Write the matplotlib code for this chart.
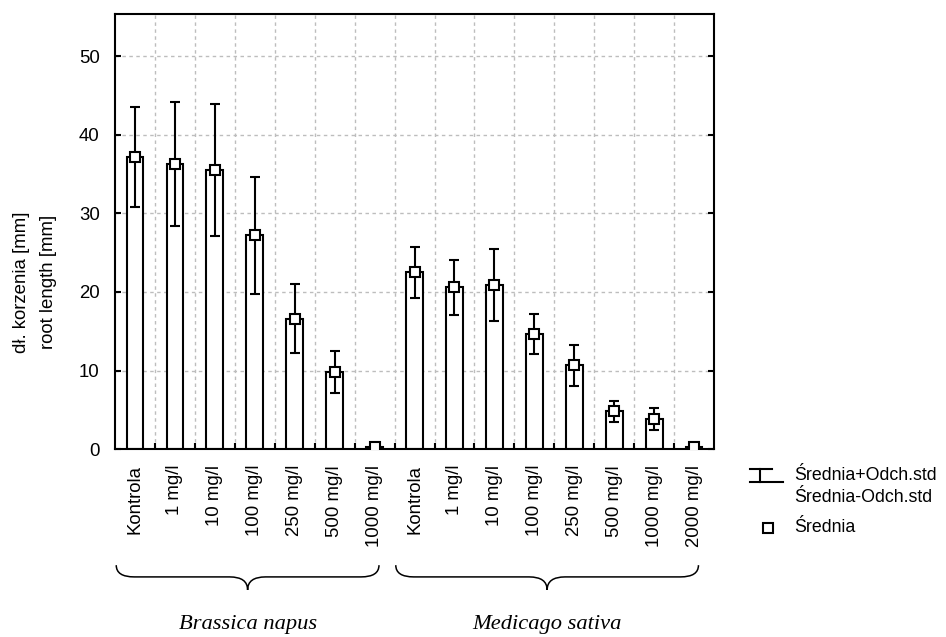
import matplotlib
matplotlib.use("Agg")
import matplotlib.pyplot as plt
import numpy as np
from matplotlib.path import Path
from matplotlib.patches import PathPatch
from matplotlib.lines import Line2D
import matplotlib.transforms as mtransforms

plt.rcParams['font.family'] = ['Liberation Sans', 'DejaVu Sans']

# data
labels_brassica = ['Kontrola', '1 mg/l', '10 mg/l', '100 mg/l', '250 mg/l', '500 mg/l', '1000 mg/l']
labels_medicago = ['Kontrola', '1 mg/l', '10 mg/l', '100 mg/l', '250 mg/l', '500 mg/l', '1000 mg/l', '2000 mg/l']
mean_brassica = [37.2, 36.3, 35.5, 27.2, 16.6, 9.8, 0.2]
sd_brassica = [6.4, 7.9, 8.4, 7.4, 4.4, 2.65, 0.0]
mean_medicago = [22.5, 20.6, 20.85, 14.7, 10.65, 4.8, 3.8, 0.2]
sd_medicago = [3.25, 3.5, 4.6, 2.55, 2.6, 1.3, 1.4, 0.0]
groups = ['Brassica napus', 'Medicago sativa']

labels = labels_brassica + labels_medicago
means = np.array(mean_brassica + mean_medicago)
sds = np.array(sd_brassica + sd_medicago)
x = np.arange(len(labels))

fig = plt.figure(figsize=(9.46, 6.37), dpi=100)
ax = fig.add_axes([0.1216, 0.2951, 0.6332, 0.6829])

ax.bar(x, means, width=0.42, color='white', edgecolor='black', linewidth=1.5, zorder=2)
ax.errorbar(x, means, yerr=sds, fmt='none', ecolor='black', elinewidth=1.5,
            capsize=3.3, capthick=1.5, zorder=3)
ax.plot(x, means, 's', ms=7.5, mfc='white', mec='black', mew=1.5, zorder=4)

ax.set_xlim(-0.5, len(labels) - 0.5)
ax.set_ylim(0, 55.4)
ax.set_yticks(np.arange(0, 51, 10))
ax.set_xticks(x)
ax.set_xticklabels(labels, rotation=90, fontsize=13.4)
ax.set_xticks(x[:-1] + 0.5, minor=True)
ax.tick_params(axis='x', which='major', length=0, pad=11.5)
ax.tick_params(axis='x', which='minor', direction='in', length=4, width=1.5, top=False)
ax.tick_params(axis='y', direction='in', length=4, width=1.5, right=True, labelsize=13.4, pad=11)
ax.grid(True, axis='y', color='#bdbdbd', linestyle=(0, (2.5, 2.5)), linewidth=1, zorder=0)
ax.grid(True, axis='x', which='minor', color='#bdbdbd', linestyle=(0, (2.5, 2.5)), linewidth=1, zorder=0)
for s in ax.spines.values():
    s.set_linewidth(1.5)

W, H = 946.0, 637.0


def fx(px):
    return px / W


def fy(py):
    return 1 - py / H


fig.text(fx(35), fy(282), 'dł. korzenia [mm]\nroot length [mm]', fontsize=13.4,
         rotation=90, ha='center', va='center', multialignment='center', linespacing=1.75)

# curly braces under the groups
trans = mtransforms.blended_transform_factory(ax.transData, ax.transAxes)


def brace(x0, x1, y_end, y_mid, y_tip, d):
    xm = (x0 + x1) / 2
    verts = [(x0, y_end), (x0, y_mid), (x0 + d, y_mid),
             (xm - d, y_mid), (xm, y_mid), (xm, y_tip),
             (xm, y_mid), (xm + d, y_mid),
             (x1 - d, y_mid), (x1, y_mid), (x1, y_end)]
    codes = [Path.MOVETO, Path.CURVE3, Path.CURVE3, Path.LINETO, Path.CURVE3, Path.CURVE3,
             Path.CURVE3, Path.CURVE3, Path.LINETO, Path.CURVE3, Path.CURVE3]
    ax.add_patch(PathPatch(Path(verts, codes), fc='none', ec='black', lw=1.1,
                           transform=trans, clip_on=False))
    return xm


n1 = len(labels_brassica)
spans = [(0, n1 - 1), (n1, len(labels) - 1)]
for (a, b), name in zip(spans, groups):
    xm = brace(a - 0.47, b + 0.11, -0.267, -0.294, -0.324, 0.45)
    ax.text(xm, -0.414, name, transform=trans, ha='center', va='baseline',
            fontsize=16.2, style='italic', family='Liberation Serif')

# legend drawn by hand
lk = dict(color='black', lw=1.5, transform=fig.transFigure)
fig.add_artist(Line2D([fx(750), fx(772)], [fy(469), fy(469)], **lk))
fig.add_artist(Line2D([fx(760), fx(760)], [fy(469), fy(482)], **lk))
fig.add_artist(Line2D([fx(750), fx(783)], [fy(482), fy(482)], **lk))
fig.add_artist(Line2D([fx(768)], [fy(528)], marker='s', ms=6.5, mfc='white', mec='black',
                      mew=1.5, ls='none', transform=fig.transFigure))
fig.text(fx(794), fy(475), 'Średnia+Odch.std', fontsize=12.8, va='center')
fig.text(fx(794), fy(497), 'Średnia-Odch.std', fontsize=12.8, va='center')
fig.text(fx(794), fy(528), 'Średnia', fontsize=12.8, va='center')

fig.savefig('out.png', dpi=100)
